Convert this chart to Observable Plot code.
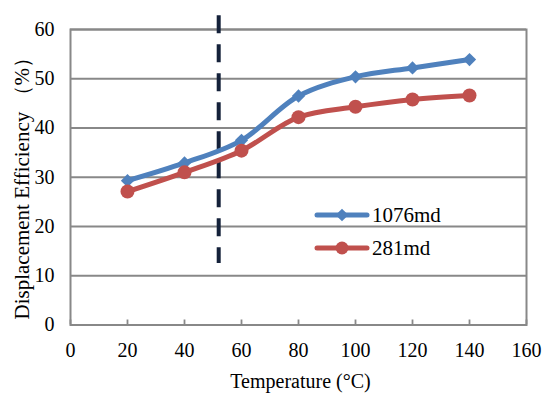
<!DOCTYPE html>
<html>
<head>
<meta charset="utf-8">
<script src="https://cdn.jsdelivr.net/npm/d3@7"></script>
<script src="https://cdn.jsdelivr.net/npm/@observablehq/plot@0.6"></script>
<style>
  html, body { margin: 0; padding: 0; background: #fff; }
  #wrap { position: relative; width: 550px; height: 404px; }
  #legend { position: absolute; left: 0; top: 0; }
</style>
</head>
<body>
<div id="wrap"></div>
<script>
// Data
const temperatures = [20, 40, 60, 80, 100, 120, 140];
const eff1076md = [29.3, 32.9, 37.5, 46.5, 50.4, 52.2, 53.9];
const eff281md = [27.1, 31.0, 35.4, 42.2, 44.3, 45.8, 46.6];
const seriesNames = ["1076md", "281md"];
const seriesColors = ["#4F81BD", "#C0504D"];
const xTicks = [0, 20, 40, 60, 80, 100, 120, 140, 160];
const yTicks = [0, 10, 20, 30, 40, 50, 60];
const thresholdTemp = [52];
const thresholdSpan = [62.8, 12.5];
const xTitle = "Temperature (°C)";
const yTitle = "Displacement Efficiency （%）";

const s1 = temperatures.map((t, i) => ({t, v: eff1076md[i], s: seriesNames[0]}));
const s2 = temperatures.map((t, i) => ({t, v: eff281md[i], s: seriesNames[1]}));

const font = "'Liberation Serif', 'Times New Roman', serif";
const gray = "#888888";

const chart = Plot.plot({
  width: 550,
  height: 404,
  marginLeft: 70,
  marginRight: 24,
  marginTop: 29,
  marginBottom: 79.5,
  style: {fontFamily: font, fontSize: "20px", color: "#000", background: "#fff"},
  x: {domain: [0, 160], ticks: xTicks},
  y: {domain: [0, 60], ticks: yTicks},
  marks: [
    Plot.gridY(yTicks.filter(d => d > 0), {stroke: gray, strokeOpacity: 1, strokeWidth: 1.8}),
    Plot.frame({stroke: gray, strokeWidth: 2}),
    Plot.axisX({ticks: xTicks, tickSize: -5, tickPadding: 23, stroke: gray, strokeWidth: 1.8,
      label: null, fontSize: 20}),
    Plot.axisY({ticks: yTicks, tickSize: 0, tickPadding: 16, fontSize: 20, label: null}),
    Plot.text([xTitle], {frameAnchor: "bottom", dy: 57, dx: 2, fontSize: 20, letterSpacing: "1px", lineAnchor: "middle"}),
    Plot.text([yTitle], {frameAnchor: "left", dx: -48, dy: 6, rotate: -90, fontSize: 21, textAnchor: "middle", lineAnchor: "middle"}),
    Plot.ruleX(thresholdTemp, {y1: thresholdSpan[0], y2: thresholdSpan[1], stroke: "#14213A", strokeWidth: 4, strokeDasharray: "18,11"}),
    Plot.line(s1, {x: "t", y: "v", stroke: seriesColors[0], strokeWidth: 5, curve: "catmull-rom"}),
    Plot.dot(s1, {x: "t", y: "v", fill: seriesColors[0], symbol: "square", rotate: 45, r: 5.3}),
    Plot.line(s2, {x: "t", y: "v", stroke: seriesColors[1], strokeWidth: 5, curve: "catmull-rom"}),
    Plot.dot(s2, {x: "t", y: "v", fill: seriesColors[1], symbol: "circle", r: 7})
  ]
});
document.getElementById("wrap").appendChild(chart);

// Legend overlay
const leg = d3.select("#wrap").append("svg").attr("id", "legend")
  .attr("width", 550).attr("height", 404).style("pointer-events", "none");
seriesNames.forEach((name, i) => {
  const y = 215 + i * 33;
  const g = leg.append("g");
  g.append("line").attr("x1", 317).attr("x2", 367).attr("y1", y).attr("y2", y)
    .attr("stroke", seriesColors[i]).attr("stroke-width", 5).attr("stroke-linecap", "round");
  if (i === 0) {
    g.append("rect").attr("x", 342 - 4.5).attr("y", y - 4.5).attr("width", 9).attr("height", 9)
      .attr("fill", seriesColors[i]).attr("transform", `rotate(45 342 ${y})`);
  } else {
    g.append("circle").attr("cx", 342).attr("cy", y).attr("r", 6.5).attr("fill", seriesColors[i]);
  }
  g.append("text").attr("x", 372).attr("y", y).attr("dy", "0.35em")
    .attr("font-family", font).attr("font-size", 21).text(name);
});
</script>
</body>
</html>
